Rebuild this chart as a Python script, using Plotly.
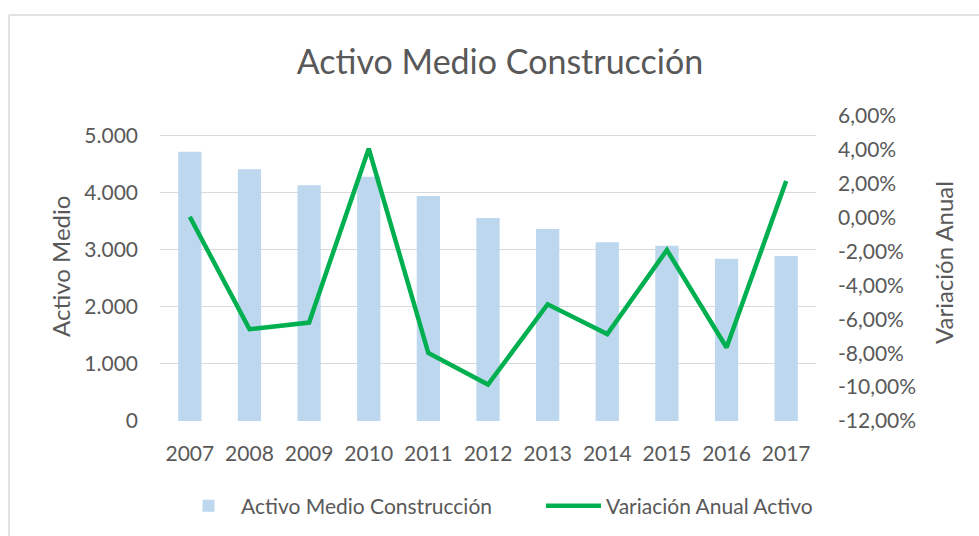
import plotly.graph_objects as go

years = ["2007", "2008", "2009", "2010", "2011", "2012", "2013", "2014", "2015", "2016", "2017"]
activo_medio = [4725, 4415, 4135, 4285, 3945, 3560, 3370, 3135, 3075, 2845, 2895]
variacion_anual = [0.0005, -0.0658, -0.0619, 0.0407, -0.0799, -0.0985, -0.0511, -0.0687, -0.0191, -0.0766, 0.0216]

left_ticks = [0, 1000, 2000, 3000, 4000, 5000]
right_tickvals = [-0.12, -0.10, -0.08, -0.06, -0.04, -0.02, 0.0, 0.02, 0.04, 0.06]
right_ticktext = ["-12,00%", "-10,00%", "-8,00%", "-6,00%", "-4,00%", "-2,00%", "0,00%", "2,00%", "4,00%", "6,00%"]

TXT = "#595959"
FONT = "Lato"

W, H = 979, 536
L, R, T, B = 160, 163, 116, 115
pw, ph = W - L - R, H - T - B

def px_x(x):
    return (x - L) / pw

def px_y(y):
    return (H - B - y) / ph

fig = go.Figure()
fig.add_trace(go.Bar(
    x=years, y=activo_medio, name="Activo Medio Construcción",
    marker=dict(color="#BDD7EE", line=dict(width=0)),
    yaxis="y", legend="legend",
))
fig.add_trace(go.Scatter(
    x=years, y=variacion_anual, name="Variación Anual Activo",
    mode="lines", line=dict(color="#00B050", width=4.5),
    yaxis="y2", legend="legend2",
))

legend_common = dict(orientation="h", xref="container", yref="container",
                     xanchor="left", y=1 - 506 / H, yanchor="middle",
                     font=dict(size=21, color=TXT), bgcolor="rgba(0,0,0,0)",
                     itemwidth=55)

fig.update_layout(
    width=W, height=H,
    margin=dict(l=L, r=R, t=T, b=B),
    paper_bgcolor="white", plot_bgcolor="white",
    separators=",.",
    font=dict(family=FONT, color=TXT, size=21),
    bargap=0.61,
    title=dict(text="Activo Medio Construcción", x=500 / W, xanchor="center",
               y=1 - 62 / H, yanchor="middle", yref="container",
               font=dict(family=FONT, size=34, color=TXT)),
    xaxis=dict(showgrid=False, showline=False, zeroline=False, ticks="",
               tickfont=dict(size=21, color=TXT), ticklabelstandoff=18),
    yaxis=dict(range=[0, 5350], tickvals=left_ticks, tickformat=",d",
               showgrid=True, gridcolor="#D9D9D9", gridwidth=1,
               zeroline=False, showline=False, ticks="",
               tickfont=dict(size=21, color=TXT), ticklabelstandoff=21),
    yaxis2=dict(range=[-0.12, 0.06], overlaying="y", side="right",
                tickvals=right_tickvals, ticktext=right_ticktext,
                showgrid=False, zeroline=False, showline=False, ticks="",
                tickfont=dict(size=21, color=TXT), ticklabelstandoff=21),
    showlegend=True,
    legend=dict(x=176 / W, **legend_common),
    legend2=dict(x=541 / W, **legend_common),
    annotations=[
        dict(text="Activo Medio", xref="paper", yref="paper",
             x=px_x(60), y=px_y(267), textangle=-90, showarrow=False,
             xanchor="center", yanchor="middle",
             font=dict(family=FONT, size=24, color=TXT)),
        dict(text="Variación Anual", xref="paper", yref="paper",
             x=px_x(943), y=px_y(263), textangle=-90, showarrow=False,
             xanchor="center", yanchor="middle",
             font=dict(family=FONT, size=24, color=TXT)),
    ],
    shapes=[
        dict(type="line", xref="paper", yref="paper",
             x0=px_x(9), x1=px_x(985), y0=px_y(15), y1=px_y(15),
             line=dict(color="#D9D9D9", width=1.5)),
        dict(type="line", xref="paper", yref="paper",
             x0=px_x(9), x1=px_x(9), y0=px_y(15), y1=px_y(545),
             line=dict(color="#D9D9D9", width=1.5)),
    ],
)

fig.write_html("out.html", config={"displayModeBar": False},
               post_script="document.body.style.margin='0';document.body.style.overflow='hidden';")
